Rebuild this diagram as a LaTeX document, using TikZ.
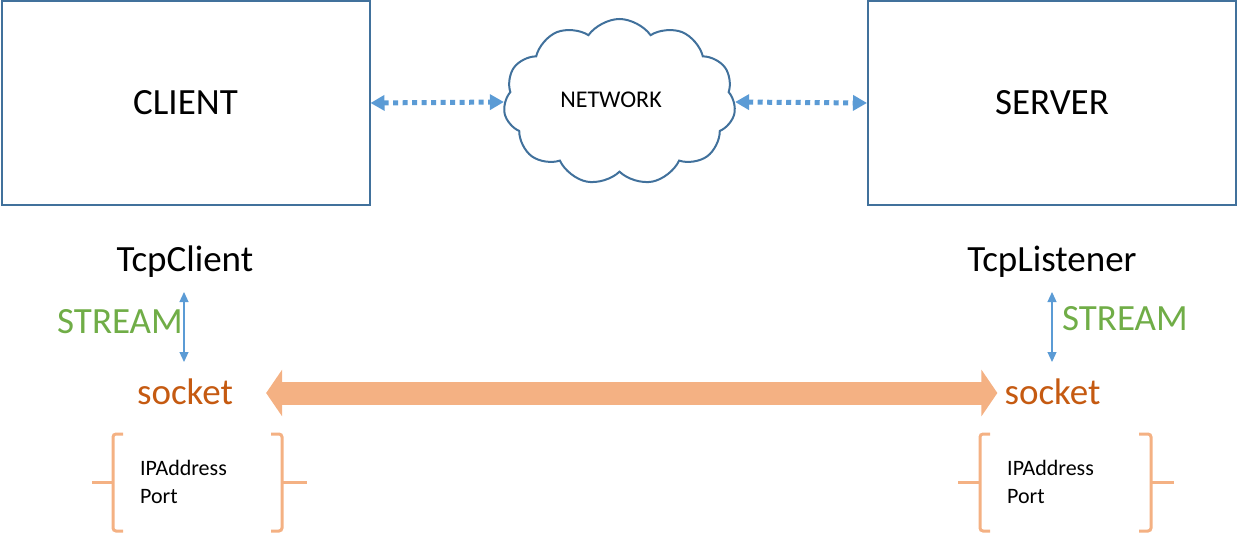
\documentclass[tikz,border=0pt]{standalone}
\usepackage{fontspec}
\setmainfont{Carlito}
\usetikzlibrary{arrows.meta,shapes.symbols}
\definecolor{boxblue}{HTML}{41719C}
\definecolor{arrblue}{HTML}{5B9BD5}
\definecolor{sgreen}{HTML}{70AD47}
\definecolor{sorange}{HTML}{C55A11}
\definecolor{lorange}{HTML}{F4B183}
\begin{document}
\begin{tikzpicture}[x=1pt,y=-1pt,
  mainbox/.style={draw=boxblue,line width=2pt,minimum width=368pt,minimum height=204pt,inner sep=0pt},
  bigtext/.style={font=\fontsize{37}{40}\selectfont,inner sep=0pt,anchor=base},
  smalltext/.style={font=\fontsize{22}{26}\selectfont,inner sep=0pt,anchor=base west},
  dotarrow/.style={draw=arrblue,line width=5pt,dash pattern=on 5pt off 4.5pt,
     {Triangle[length=14pt,width=15pt]}-{Triangle[length=14pt,width=15pt]}},
  thinarrow/.style={draw=arrblue,line width=1.2pt,{Triangle[length=10pt,width=9pt]}-{Triangle[length=10pt,width=9pt]}},
  bigarrow/.style={draw=lorange,line width=23pt,{Triangle[length=16pt,width=46pt]}-{Triangle[length=16pt,width=46pt]}},
  brace/.style={draw=lorange,line width=3pt,rounded corners=3pt}
]
\useasboundingbox (0,0) rectangle (1238,534);
\node[mainbox] (client) at (185.5,103) {};
\node[bigtext] (clientt) at (185.5,114.5) {CLIENT};
\node[mainbox] (server) at (1052,103) {};
\node[bigtext] (servert) at (1052,114.5) {SERVER};
\node[cloud,cloud puffs=11,cloud puff arc=110,aspect=1.45,draw=boxblue,line width=2pt,
  minimum width=232pt,minimum height=166pt,inner sep=0pt] (net) at (619.5,102) {};
\node[font=\fontsize{24}{28}\selectfont,inner sep=0pt,anchor=base] (nett) at (611,108) {NETWORK};
\draw[dotarrow] (client.east) -- (net.west);
\draw[dotarrow] (net.east) -- (server.west);

\node[bigtext] (tcpc) at (185,271.5) {TcpClient};
\node[bigtext] (tcpl) at (1052,271.5) {TcpListener};
\node[bigtext,anchor=base east,text=sgreen] (strl) at (183,333.5) {STREAM};
\node[bigtext,anchor=base west,text=sgreen] (strr) at (1062,330.5) {STREAM};
\node[bigtext,text=sorange] (sockl) at (185,404) {socket};
\node[bigtext,text=sorange] (sockr) at (1052.5,404) {socket};
\coordinate (a1t) at (184,292);
\coordinate (a1b) at (184,362);
\coordinate (a2t) at (1052,292);
\coordinate (a2b) at (1052,362);
\draw[thinarrow] (a1t) -- (a1b);
\draw[thinarrow] (a2t) -- (a2b);
\draw[bigarrow] ([xshift=33pt]sockl.east |- 0,393) -- ([xshift=-7pt]sockr.west |- 0,393);

\node[smalltext] (ip1) at (140,475) {IPAddress};
\node[smalltext] (po1) at (140,503) {Port};
\node[smalltext] (ip2) at (1007,475) {IPAddress};
\node[smalltext] (po2) at (1007,503) {Port};

\draw[brace] (123,434) -- (113,434) -- (113,531) -- (123,531);
\draw[brace] (113,482) -- (92,482);
\draw[brace] (271,434) -- (282,434) -- (282,531) -- (271,531);
\draw[brace] (282,482) -- (307,482);
\draw[brace] (990,434) -- (980,434) -- (980,531) -- (990,531);
\draw[brace] (980,482) -- (958,482);
\draw[brace] (1139,434) -- (1151,434) -- (1151,531) -- (1139,531);
\draw[brace] (1151,482) -- (1174,482);
\end{tikzpicture}
\end{document}
